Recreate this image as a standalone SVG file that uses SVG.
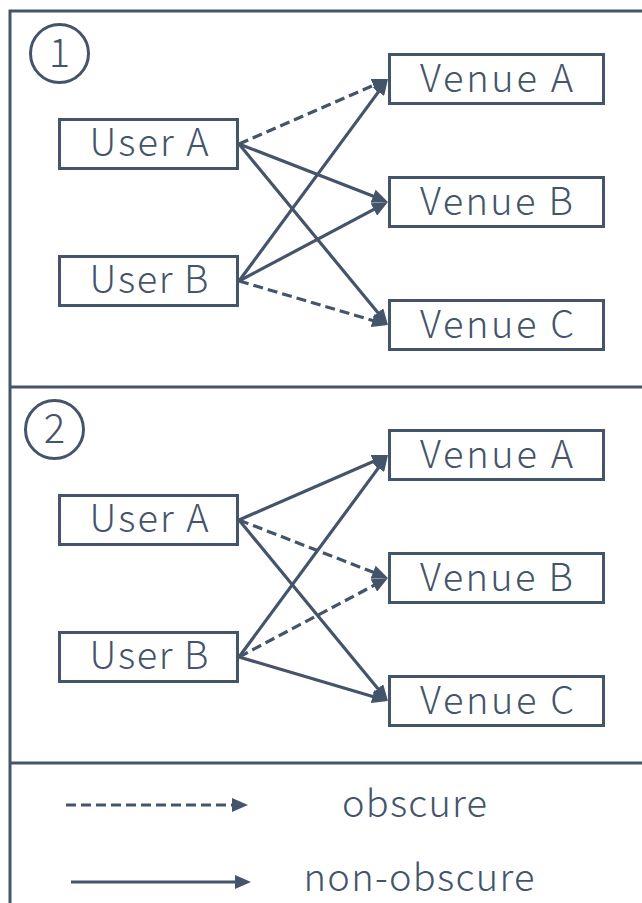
<svg xmlns="http://www.w3.org/2000/svg" width="642" height="903" viewBox="0 0 642 903">
  <style>
    .frame { fill: none; stroke: #44546A; stroke-width: 3; }
    .box { fill: #FFFFFF; stroke: #44546A; stroke-width: 3; }
    .lbl { font-family: "Noto Sans CJK JP", "Noto Sans", "Liberation Sans", sans-serif; font-weight: 300; font-size: 38px; fill: #44546A; text-anchor: middle; }
    .num { font-family: "Noto Sans CJK JP", "Noto Sans", "Liberation Sans", sans-serif; font-weight: 300; font-size: 40px; fill: #44546A; text-anchor: middle; }
    .solid { fill: none; stroke: #44546A; stroke-width: 3.2; marker-end: url(#head); }
    .dash { fill: none; stroke: #44546A; stroke-width: 3.2; stroke-dasharray: 10 5; marker-end: url(#head); }
  </style>
  <defs>
    <marker id="head" markerUnits="userSpaceOnUse" markerWidth="16" markerHeight="14" viewBox="0 0 16 14" refX="8" refY="7" orient="auto">
      <path d="M0,0 L16,7 L0,14 z" fill="#44546A"/>
    </marker>
  </defs>

  <rect width="642" height="903" fill="#FFFFFF"/>

  <!-- panel frame and dividers -->
  <g id="frame">
    <path class="frame" d="M10,903 V11 H642"/>
    <path class="frame" d="M10,387 H642"/>
    <path class="frame" d="M10,763 H642"/>
  </g>

  <!-- panel numbers -->
  <g id="num1">
    <circle class="frame" cx="59.5" cy="53.5" r="29"/>
    <text class="num" x="59.5" y="67">1</text>
  </g>
  <g id="num2">
    <circle class="frame" cx="54.5" cy="429.5" r="29"/>
    <text class="num" x="54.5" y="443">2</text>
  </g>

  <!-- connectors -->
  <g id="connectors">
    <!-- panel 1 -->
    <line class="dash" x1="239" y1="144" x2="380.7" y2="82.2"/>
    <line class="solid" x1="239" y1="144" x2="380.5" y2="199.1"/>
    <line class="solid" x1="239" y1="144" x2="382.9" y2="318.8"/>
    <line class="solid" x1="239" y1="281" x2="383.25" y2="85.4"/>
    <line class="solid" x1="239" y1="281" x2="380.9" y2="205.7"/>
    <line class="dash" x1="239" y1="281" x2="380.3" y2="322.7"/>
    <!-- panel 2 -->
    <line class="solid" x1="239" y1="520" x2="380.7" y2="458.2"/>
    <line class="dash" x1="239" y1="520" x2="380.5" y2="575.1"/>
    <line class="solid" x1="239" y1="520" x2="382.9" y2="694.8"/>
    <line class="solid" x1="239" y1="657" x2="383.25" y2="461.4"/>
    <line class="dash" x1="239" y1="657" x2="380.9" y2="581.7"/>
    <line class="solid" x1="239" y1="657" x2="380.3" y2="698.7"/>
    <!-- legend -->
    <line class="dash" x1="66" y1="805" x2="240" y2="805"/>
    <line class="solid" x1="71" y1="882" x2="243" y2="882"/>
  </g>

  <!-- panel 1 nodes -->
  <g id="p1-user-a">
    <rect class="box" x="59.5" y="119.5" width="178" height="49"/>
    <text class="lbl" x="149" y="156" textLength="119" lengthAdjust="spacing">User A</text>
  </g>
  <g id="p1-user-b">
    <rect class="box" x="59.5" y="256.5" width="178" height="49"/>
    <text class="lbl" x="149" y="293" textLength="119" lengthAdjust="spacing">User B</text>
  </g>
  <g id="p1-venue-a">
    <rect class="box" x="389.5" y="54.5" width="214" height="49"/>
    <text class="lbl" x="496.5" y="92" textLength="153" lengthAdjust="spacing">Venue A</text>
  </g>
  <g id="p1-venue-b">
    <rect class="box" x="389.5" y="177.5" width="214" height="49"/>
    <text class="lbl" x="496.5" y="215" textLength="153" lengthAdjust="spacing">Venue B</text>
  </g>
  <g id="p1-venue-c">
    <rect class="box" x="389.5" y="300.5" width="214" height="49"/>
    <text class="lbl" x="497" y="338" textLength="154" lengthAdjust="spacing">Venue C</text>
  </g>

  <!-- panel 2 nodes -->
  <g id="p2-user-a">
    <rect class="box" x="59.5" y="495.5" width="178" height="49"/>
    <text class="lbl" x="149" y="532" textLength="119" lengthAdjust="spacing">User A</text>
  </g>
  <g id="p2-user-b">
    <rect class="box" x="59.5" y="632.5" width="178" height="49"/>
    <text class="lbl" x="149" y="669" textLength="119" lengthAdjust="spacing">User B</text>
  </g>
  <g id="p2-venue-a">
    <rect class="box" x="389.5" y="430.5" width="214" height="49"/>
    <text class="lbl" x="496.5" y="468" textLength="153" lengthAdjust="spacing">Venue A</text>
  </g>
  <g id="p2-venue-b">
    <rect class="box" x="389.5" y="553.5" width="214" height="49"/>
    <text class="lbl" x="496.5" y="591" textLength="153" lengthAdjust="spacing">Venue B</text>
  </g>
  <g id="p2-venue-c">
    <rect class="box" x="389.5" y="676.5" width="214" height="49"/>
    <text class="lbl" x="497" y="714" textLength="154" lengthAdjust="spacing">Venue C</text>
  </g>

  <!-- legend labels -->
  <g id="legend-obscure">
    <text class="lbl" x="414.5" y="817" textLength="145" lengthAdjust="spacing">obscure</text>
  </g>
  <g id="legend-non-obscure">
    <text class="lbl" x="419" y="891" textLength="231" lengthAdjust="spacing">non-obscure</text>
  </g>
</svg>
